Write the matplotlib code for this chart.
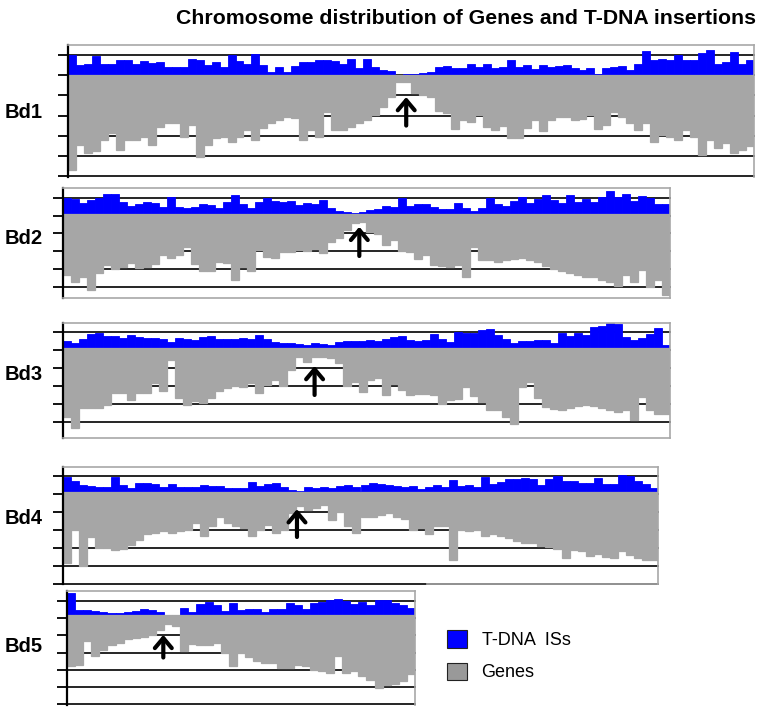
import numpy as np
import matplotlib
matplotlib.use("Agg")
import matplotlib.pyplot as plt
from matplotlib.patches import Patch

plt.rcParams['font.family'] = ['Liberation Sans', 'DejaVu Sans']

# ---- data: values in grid units (one unit = spacing of the horizontal lines)
# T-DNA insertion sites per bin (drawn upwards) and genes per bin (drawn downwards)
bd1_tdna = [0.98, 0.49, 0.57, 0.95, 0.57, 0.57, 0.74, 0.74, 0.57, 0.70,
            0.61, 0.66, 0.38, 0.41, 0.38, 0.82, 0.74, 0.49, 0.66, 0.41,
            0.98, 0.70, 0.57, 1.03, 0.49, 0.15, 0.41, 0.16, 0.44, 0.66,
            0.66, 0.74, 0.74, 0.69, 0.57, 0.82, 0.33, 0.82, 0.38, 0.25,
            0.20, 0.03, 0.08, 0.08, 0.11, 0.16, 0.38, 0.44, 0.33, 0.33,
            0.54, 0.41, 0.54, 0.33, 0.41, 0.77, 0.41, 0.49, 0.30, 0.49,
            0.41, 0.44, 0.49, 0.33, 0.25, 0.33, 0.08, 0.33, 0.41, 0.44,
            0.25, 0.57, 1.20, 0.74, 0.79, 0.74, 0.98, 0.74, 0.74, 1.10,
            1.23, 0.54, 0.66, 1.15, 0.57, 0.74]
bd1_genes = [4.67, 3.44, 3.85, 3.77, 3.20, 2.87, 3.69, 3.20, 3.20, 3.03,
             3.44, 2.54, 2.34, 2.38, 3.03, 2.46, 4.02, 3.44, 3.11, 3.07,
             3.28, 3.03, 2.70, 3.20, 2.62, 2.38, 2.21, 2.05, 2.13, 3.20,
             2.70, 3.03, 1.80, 2.70, 2.70, 2.57, 2.38, 2.21, 1.97, 1.56,
             1.07, 0.33, 0.33, 0.90, 0.98, 1.07, 1.75, 1.89, 2.67, 2.21,
             2.30, 1.97, 2.57, 2.70, 2.51, 3.11, 3.11, 2.62, 2.21, 2.74,
             2.21, 2.08, 2.05, 2.21, 2.18, 1.97, 2.67, 2.46, 1.80, 2.08,
             2.38, 2.70, 2.38, 3.28, 2.95, 3.03, 3.20, 2.70, 3.03, 3.93,
             3.20, 3.61, 3.36, 3.82, 3.72, 3.52]

bd2_tdna = [0.90, 0.84, 0.62, 0.80, 0.90, 1.14, 1.14, 0.71, 0.47, 0.58,
            0.71, 0.65, 0.43, 0.99, 0.39, 0.34, 0.43, 0.58, 0.52, 0.34,
            0.71, 1.08, 0.58, 0.34, 0.71, 0.90, 0.77, 0.71, 0.77, 0.52,
            0.65, 0.58, 0.80, 0.34, 0.21, 0.15, 0.09, 0.11, 0.24, 0.28,
            0.47, 0.43, 0.90, 0.47, 0.58, 0.58, 0.43, 0.28, 0.28, 0.65,
            0.34, 0.21, 0.34, 0.90, 0.58, 0.47, 0.77, 0.99, 0.62, 0.84,
            1.08, 0.80, 0.62, 1.08, 0.71, 0.84, 0.71, 0.99, 1.33, 0.95,
            1.14, 0.77, 1.03, 0.90, 0.58, 0.58]
bd2_genes = [3.40, 3.78, 3.50, 4.24, 3.31, 2.84, 3.08, 2.97, 2.75, 3.03,
             2.97, 2.79, 2.28, 2.47, 2.28, 1.81, 2.79, 3.21, 3.16, 2.65,
             2.75, 3.68, 2.97, 3.16, 2.00, 2.41, 2.47, 2.09, 2.09, 2.00,
             2.04, 1.96, 2.15, 1.53, 1.35, 0.88, 0.47, 0.41, 1.00, 1.10,
             1.72, 1.44, 2.04, 2.09, 2.52, 2.28, 2.84, 2.93, 2.97, 2.84,
             3.50, 1.81, 2.56, 2.56, 2.65, 2.56, 2.52, 2.47, 2.56, 2.65,
             2.90, 3.08, 3.16, 3.31, 3.40, 3.53, 3.50, 3.68, 3.78, 4.02,
             3.40, 3.78, 3.12, 4.06, 3.68, 4.52]

bd3_tdna = [0.39, 0.24, 0.46, 0.76, 0.83, 0.65, 0.65, 0.52, 0.70, 0.61,
            0.52, 0.52, 0.46, 0.33, 0.52, 0.46, 0.43, 0.57, 0.65, 0.46,
            0.46, 0.46, 0.52, 0.46, 0.70, 0.46, 0.33, 0.28, 0.28, 0.20,
            0.15, 0.24, 0.20, 0.13, 0.33, 0.37, 0.39, 0.39, 0.43, 0.39,
            0.50, 0.59, 0.63, 0.44, 0.37, 0.41, 0.78, 0.50, 0.31, 0.87,
            0.81, 0.81, 1.00, 1.06, 0.69, 0.50, 0.26, 0.37, 0.37, 0.41,
            0.44, 0.26, 0.81, 0.63, 0.81, 0.69, 1.15, 1.19, 1.37, 1.33,
            0.59, 0.44, 0.56, 0.78, 1.11, 0.13]
bd3_genes = [3.83, 4.48, 3.37, 3.37, 3.37, 3.19, 2.54, 2.54, 2.91, 2.54,
             2.54, 1.98, 2.39, 0.69, 2.81, 3.19, 2.94, 3.09, 2.81, 2.39,
             2.26, 2.13, 2.17, 1.94, 2.54, 2.07, 1.80, 2.13, 1.24, 0.50,
             0.78, 0.50, 0.54, 0.59, 0.87, 2.13, 1.89, 2.44, 1.80, 1.70,
             2.65, 2.00, 2.37, 2.65, 2.56, 2.59, 2.65, 3.11, 2.93, 2.83,
             2.19, 2.70, 3.02, 3.48, 3.48, 3.85, 4.22, 2.19, 1.91, 2.78,
             3.30, 3.39, 3.48, 3.33, 3.26, 3.20, 3.26, 3.33, 3.44, 3.57,
             3.48, 4.04, 2.74, 3.48, 3.67, 3.67]

bd4_tdna = [0.80, 0.61, 0.37, 0.31, 0.28, 0.28, 0.83, 0.37, 0.19, 0.50,
            0.46, 0.43, 0.28, 0.43, 0.28, 0.24, 0.28, 0.37, 0.31, 0.31,
            0.22, 0.19, 0.19, 0.56, 0.31, 0.43, 0.46, 0.24, 0.09, 0.02,
            0.24, 0.19, 0.24, 0.19, 0.31, 0.37, 0.28, 0.37, 0.46, 0.43,
            0.39, 0.33, 0.28, 0.33, 0.15, 0.24, 0.39, 0.28, 0.65, 0.31,
            0.39, 0.24, 0.80, 0.43, 0.52, 0.70, 0.70, 0.76, 0.70, 0.39,
            0.70, 0.89, 0.57, 0.57, 0.46, 0.46, 0.76, 0.43, 0.43, 0.94,
            0.89, 0.57, 0.43, 0.20]
bd4_genes = [3.98, 2.13, 4.13, 2.54, 3.15, 3.15, 3.28, 3.20, 2.96, 2.69,
             2.35, 2.31, 2.17, 2.31, 2.22, 2.13, 1.76, 2.50, 1.94, 1.39,
             1.76, 1.94, 2.04, 2.50, 2.13, 1.85, 2.31, 2.13, 1.20, 0.83,
             1.02, 0.93, 0.74, 1.57, 1.11, 1.94, 2.31, 1.39, 1.39, 1.30,
             1.20, 1.39, 1.54, 2.13, 2.04, 2.35, 1.94, 1.94, 3.80, 2.13,
             2.17, 2.13, 2.46, 2.35, 2.50, 2.59, 2.78, 2.87, 2.87, 3.02,
             3.09, 3.20, 3.70, 3.28, 3.33, 3.61, 3.46, 3.65, 3.70, 3.33,
             3.52, 3.70, 3.80, 3.80]

bd5_tdna = [1.30, 0.31, 0.31, 0.27, 0.21, 0.12, 0.15, 0.17, 0.25, 0.37,
            0.31, 0.17, 0.02, 0.00, 0.44, 0.17, 0.63, 0.75, 0.60, 0.25,
            0.69, 0.31, 0.37, 0.33, 0.21, 0.37, 0.37, 0.69, 0.60, 0.37,
            0.69, 0.75, 0.88, 0.94, 0.83, 0.63, 0.75, 0.60, 0.88, 0.88,
            0.69, 0.60, 0.40]
bd5_genes = [2.96, 2.87, 1.52, 2.38, 2.00, 1.71, 1.62, 1.37, 1.33, 1.29,
             1.13, 0.85, 0.52, 0.65, 2.10, 1.67, 1.71, 1.71, 1.62, 2.19,
             2.96, 2.19, 2.44, 2.67, 2.77, 2.77, 3.06, 3.06, 2.87, 2.96,
             3.15, 3.21, 3.35, 2.38, 3.35, 3.21, 3.54, 3.73, 4.21, 4.02,
             3.98, 3.83, 3.40]

chrom_names = ['Bd1', 'Bd2', 'Bd3', 'Bd4', 'Bd5']
centromere_bin = [41.9, 36.6, 31.0, 28.6, 11.4]

tdna_all = [bd1_tdna, bd2_tdna, bd3_tdna, bd4_tdna, bd5_tdna]
genes_all = [bd1_genes, bd2_genes, bd3_genes, bd4_genes, bd5_genes]

# ---- layout (pixels of a 764x712 canvas)
W, H = 764, 712
# left, right, top, bottom of each panel
boxes = [(68, 754, 45, 177), (63, 670, 188, 298), (63, 670, 323, 438),
         (63, 658, 467, 584), (67, 415, 591, 705)]
ylims = [(-5.03, 1.49), (-4.70, 1.48), (-5.02, 1.37), (-5.13, 1.37), (-5.20, 1.40)]
grid_off = [0.0, -0.07, -0.12, -0.15, -0.17]
label_y = [113, 239, 374, 519, 647]
arrow_y = [(-2.49, -1.08), (-2.34, -0.70), (-2.63, -1.02), (-2.53, -0.98), (-2.45, -1.14)]

blue = '#0000ff'
grey = '#a6a6a6'
frame = '#a8a8a8'

fig = plt.figure(figsize=(W / 100, H / 100), dpi=100)

for k in range(5):
    x0, x1, t, b = boxes[k]
    ax = fig.add_axes([x0 / W, 1 - b / H, (x1 - x0) / W, (b - t) / H])
    tdna = np.array(tdna_all[k])
    genes = np.array(genes_all[k])
    x = np.arange(len(tdna))

    lo, hi = ylims[k]
    lines = np.arange(1, -6, -1) + grid_off[k]
    lines = lines[(lines > lo - 0.05) & (lines < hi)]
    for g in lines:
        ax.axhline(g, color='black', lw=1.2, zorder=0, clip_on=False)

    ax.bar(x, tdna, width=1.0, color=blue, edgecolor=blue, lw=0.6, zorder=2)
    ax.bar(x, -genes, width=1.0, color=grey, edgecolor=grey, lw=0.9, zorder=2)

    ax.annotate('', xy=(centromere_bin[k], arrow_y[k][1]),
                xytext=(centromere_bin[k], arrow_y[k][0]),
                arrowprops=dict(arrowstyle='->,head_length=0.45,head_width=0.38',
                                lw=3.0, color='black', shrinkA=0, shrinkB=0,
                                mutation_scale=16), zorder=5)

    ax.set_xlim(-0.5, len(tdna) - 0.5)
    ax.set_ylim(lo, hi)
    ax.set_xticks([])
    ax.set_yticks(lines)
    ax.tick_params(axis='y', direction='out', length=7, width=1.3, labelleft=False)
    for s in ['top', 'right', 'bottom']:
        ax.spines[s].set_color(frame)
        ax.spines[s].set_linewidth(1.2)
    ax.spines['left'].set_color('black')
    ax.spines['left'].set_linewidth(1.6)
    if k in (0, 4):
        ax.spines['bottom'].set_visible(False)
    if k == 3:
        ax.spines['bottom'].set_bounds(44.8, len(tdna) - 0.5)
    ax.set_facecolor('white')

    fig.text(5 / W, 1 - label_y[k] / H, chrom_names[k], fontsize=14.5,
             fontweight='bold', ha='left', va='center')

fig.text(466 / W, 1 - 18 / H, 'Chromosome distribution of Genes and T-DNA insertions',
         fontsize=15.3, fontweight='bold', ha='center', va='center')

handles = [Patch(facecolor=blue, edgecolor='#222222', lw=0.8),
           Patch(facecolor='#999999', edgecolor='#222222', lw=0.8)]
fig.legend(handles, ['T-DNA  ISs', 'Genes'], loc='upper left',
           bbox_to_anchor=(431 / W, 1 - 614 / H), frameon=False, fontsize=13,
           handlelength=1.1, handleheight=1.1, handletextpad=0.8, labelspacing=0.75)

fig.savefig('out.png', dpi=100)
